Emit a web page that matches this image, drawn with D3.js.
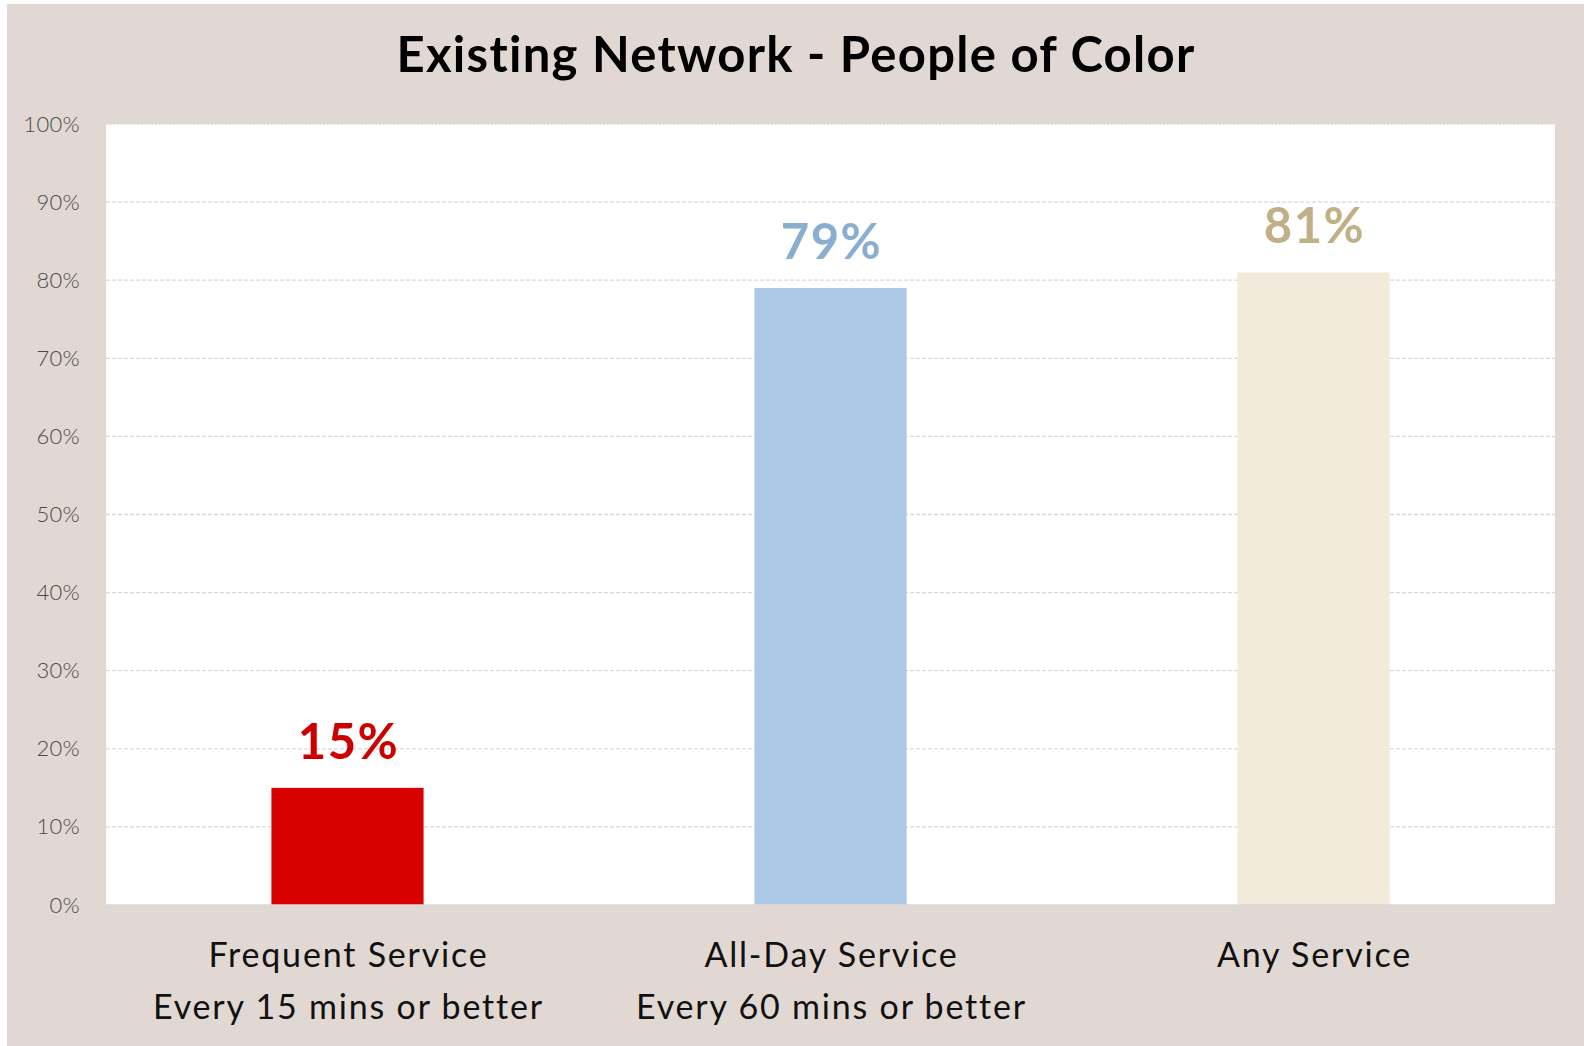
<!DOCTYPE html>
<html>
<head>
<meta charset="utf-8">
<script src="https://cdn.jsdelivr.net/npm/d3@7"></script>
<style>
  body { margin: 0; background: #fff; }
  svg { display: block; }
</style>
</head>
<body>
<svg id="chart" width="1584" height="1046"></svg>
<script>
// Chart data
var categories = ["Frequent Service|Every 15 mins or better", "All-Day Service|Every 60 mins or better", "Any Service"],
	values = [0.15, 0.79, 0.81],
	barColors = ["#d90000", "#abc9e4", "#f2ebdb"],
	labelColors = ["#cc0000", "#8aaed0", "#c1b085"],
	yTicks = [0, 0.1, 0.2, 0.3, 0.4, 0.5, 0.6, 0.7, 0.8, 0.9, 1.0];

var W = 1584, H = 1046,
	margin = {top: 124, right: 29, bottom: 141, left: 106};

var svg = d3.select("#chart");

// Background panel (small white strip at top/left like the original)
svg.append("rect")
	.attr("x", 7).attr("y", 4)
	.attr("width", W - 7).attr("height", H - 4)
	.attr("fill", "#e2d8d3");

var pw = W - margin.left - margin.right,
	ph = H - margin.top - margin.bottom;

var g = svg.append("g").attr("transform", "translate(" + margin.left + "," + margin.top + ")");

g.append("rect").attr("width", pw).attr("height", ph).attr("fill", "#fff");

var x = d3.scaleBand().domain(categories).range([0, pw]).paddingInner(0.685).paddingOuter(0.3425),
	y = d3.scaleLinear().domain([0, 1]).range([ph, 0]);

// Gridlines
g.append("g")
	.selectAll("line")
	.data(yTicks.filter(function(d) { return d > 0; }))
	.enter().append("line")
	.attr("x1", 0).attr("x2", pw)
	.attr("y1", function(d) { return y(d); })
	.attr("y2", function(d) { return y(d); })
	.attr("stroke", "#d9d9d9")
	.attr("stroke-width", 1.3)
	.attr("stroke-dasharray", function(d) { return d == 1 ? "2,1.5" : "4,2"; });

// Y axis
var yAxis = g.append("g")
	.call(d3.axisLeft(y).tickValues(yTicks).tickFormat(d3.format(".0%")).tickSize(0).tickPadding(26));
yAxis.select(".domain").remove();
yAxis.selectAll("text")
	.attr("fill", "#4a4a4a")
	.style("font-family", "Lato, 'Open Sans', sans-serif")
	.style("font-weight", "300")
	.style("font-size", "22px")
	.style("letter-spacing", "0.3px");

// Bars
g.selectAll(".bar")
	.data(values)
	.enter().append("rect")
	.attr("class", "bar")
	.attr("x", function(d, i) { return x(categories[i]); })
	.attr("width", x.bandwidth())
	.attr("y", function(d) { return y(d); })
	.attr("height", function(d) { return ph - y(d); })
	.attr("fill", function(d, i) { return barColors[i]; });

// Bottom axis line
g.append("line")
	.attr("x1", 0).attr("x2", pw)
	.attr("y1", ph).attr("y2", ph)
	.attr("stroke", "#d9d9d9").attr("stroke-width", 1.5);

// Value labels
g.selectAll(".vlabel")
	.data(values)
	.enter().append("text")
	.attr("class", "vlabel")
	.attr("x", function(d, i) { return x(categories[i]) + x.bandwidth() / 2 + 1; })
	.attr("y", function(d) { return y(d) - 29; })
	.attr("text-anchor", "middle")
	.attr("fill", function(d, i) { return labelColors[i]; })
	.style("font-family", "Lato, 'Open Sans', sans-serif")
	.style("font-weight", "700")
	.style("font-size", "49px")
	.style("letter-spacing", "1.5px")
	.text(function(d) { return d3.format(".0%")(d); });

// Category labels
g.selectAll(".xlabel")
	.data(categories)
	.enter().append("text")
	.attr("class", "xlabel")
	.attr("x", function(d) { return x(d) + x.bandwidth() / 2; })
	.attr("y", ph + 62)
	.attr("text-anchor", "middle")
	.attr("fill", "#111")
	.style("font-family", "Lato, 'Open Sans', sans-serif")
	.style("font-size", "34px")
	.style("letter-spacing", "1.8px")
	.each(function(d) {
		var t = d3.select(this);
		d.split("|").forEach(function(line, k) {
			t.append("tspan")
				.attr("x", +t.attr("x") + 1)
				.attr("dy", k == 0 ? 0 : 52)
				.text(line);
		});
	});

// Title
svg.append("text")
	.attr("x", 796)
	.attr("y", 72)
	.attr("text-anchor", "middle")
	.attr("fill", "#000")
	.style("font-family", "Lato, 'Open Sans', sans-serif")
	.style("font-weight", "700")
	.style("font-size", "49px")
	.style("letter-spacing", "1.3px")
	.text("Existing Network - People of Color");
</script>
</body>
</html>
